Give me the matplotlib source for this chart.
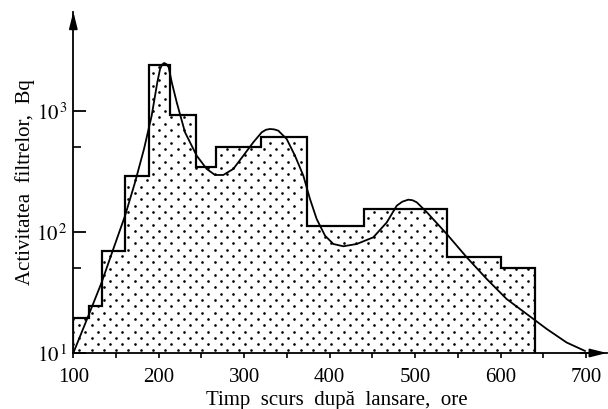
import numpy as np
import matplotlib.pyplot as plt
from matplotlib.ticker import FixedLocator, NullFormatter

plt.rcParams['font.family'] = ['Liberation Serif', 'DejaVu Serif']
plt.rcParams['mathtext.fontset'] = 'stix'

# histogram: bin edges (hours after launch) and filter activity (Bq)
edges = [100, 118, 134, 161, 189, 213, 244, 267, 320, 373, 440, 537, 601, 640]
activity = [19.5, 24.6, 70, 292, 2400, 927, 343, 501, 613, 113, 155, 62, 50]

# smooth curve
curve_t = [100, 117.6, 133.2, 146.8, 160.5, 172.2, 182.7, 191.7, 198.3, 201.5,
           204.0, 206.2, 209.0, 211.6, 215.2, 221.0, 230.7, 244.4, 256.1, 265.8,
           275.5, 287.2, 298.9, 310.6, 320.5, 325.5, 330.2, 335.0, 339.9, 349.7,
           359.4, 369.2, 377.0, 384.8, 394.6, 404.3, 416.0, 431.7, 451.1, 466.8,
           473.0, 478.5, 485.0, 492.0, 497.0, 501.9, 513.6, 537.0, 560.4, 583.8,
           607.2, 630.6, 654.0, 677.4, 698.8]
curve_a = [10, 20.3, 38.4, 72.4, 136, 257, 485, 915, 1727, 2224,
           2420, 2493, 2440, 2297, 1727, 1180, 667, 427, 332, 296,
           296, 332, 427, 551, 667, 700, 710, 705, 688, 587,
           427, 292, 187, 128, 93.2, 79.6, 76.2, 79.6, 90.4, 120,
           142, 165, 178, 185, 183, 176, 146, 96.3, 61.8, 40.9,
           27.9, 21.0, 15.8, 12.2, 10.4]

xticks = [100, 200, 300, 400, 500, 600, 700]
xminor = [150, 250, 350, 450, 550, 650]
yticks = [10, 100, 1000]
yticklabels = [r'$10^{\,1}$', r'$10^{\,2}$', r'$10^{\,3}$']
yminor = [50, 500]

fig = plt.figure(figsize=(6.08, 4.10), dpi=100)
ax = fig.add_axes([0.1206, 0.1366, 0.8778, 0.8324])
ax.set_yscale('log')
ax.set_xlim(100, 724.6)
ax.set_ylim(10, 6617)

# white area under the steps, then the dotted texture clipped to it
area = ax.stairs(activity, edges, baseline=10, fill=True,
                 facecolor='white', edgecolor='none', zorder=1)
W, H = 533.7, 341.3  # axes size in pixels
dots_x, dots_y = [], []
for n in range(-45, 20):
    ypix = 263.3 + n * 6.3
    xpix = np.arange(386.7 - 12.3 * 30, 620, 12.3) + (n % 2) * 6.15
    dots_x.extend((xpix - 73.3) / W)
    dots_y.extend([(354 - ypix) / H] * len(xpix))
dots, = ax.plot(dots_x, dots_y, 'o', color='black', ms=1.9, mew=0,
                transform=ax.transAxes, zorder=2)
dots.set_clip_path(area)

ax.stairs(activity, edges, baseline=10, color='black', lw=1.6, zorder=3)
ax.plot(curve_t, curve_a, color='black', lw=1.3, zorder=4)

for s in ['top', 'right']:
    ax.spines[s].set_visible(False)
for s in ['left', 'bottom']:
    ax.spines[s].set_linewidth(1.3)
    ax.spines[s].set_zorder(5)

arrow = dict(arrowstyle='-|>,head_length=1.0,head_width=0.25', color='black',
             lw=1.3, mutation_scale=10, shrinkA=0, shrinkB=0)
ax.annotate('', xy=(1, 0), xytext=(0.95, 0), xycoords='axes fraction',
            arrowprops=arrow, annotation_clip=False)
ax.annotate('', xy=(0, 1), xytext=(0, 0.95), xycoords='axes fraction',
            arrowprops=arrow, annotation_clip=False)

ax.xaxis.set_major_locator(FixedLocator(xticks))
ax.xaxis.set_minor_locator(FixedLocator(xminor))
ax.set_xticklabels([str(v) for v in xticks])
ax.tick_params(axis='x', which='both', direction='out', length=3.6,
               width=1.2, labelsize=15, pad=6.5)

ax.yaxis.set_major_locator(FixedLocator(yticks))
ax.yaxis.set_minor_locator(FixedLocator(yminor))
ax.yaxis.set_minor_formatter(NullFormatter())
ax.set_yticklabels(yticklabels)
ax.tick_params(axis='y', which='major', direction='in', length=9.5,
               width=1.3, labelsize=15, pad=4)
ax.tick_params(axis='y', which='minor', direction='in', length=5.5, width=1.2)

ax.set_xlabel('Timp  scurs  după  lansare,  ore', fontsize=15)
ax.xaxis.set_label_coords(0.4935, -0.108)
ax.set_ylabel('Activitatea  filtrelor,  Bq', fontsize=15)
ax.yaxis.set_label_coords(-0.072, 0.505)

fig.savefig('out.png', dpi=100)
